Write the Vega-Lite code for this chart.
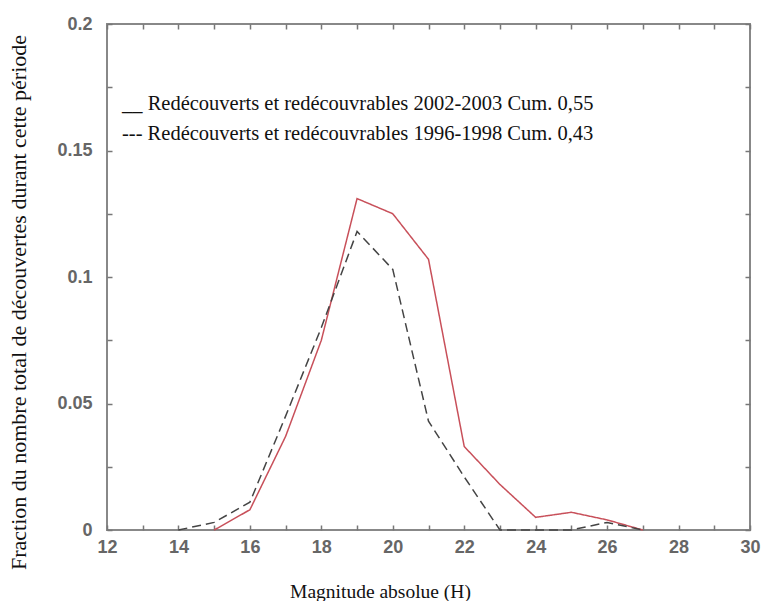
{
  "$schema": "https://vega.github.io/schema/vega-lite/v6.json",
  "width": 643,
  "height": 506,
  "autosize": "none",
  "padding": {"left": 107, "top": 24, "right": 17, "bottom": 71},
  "background": "white",
  "config": {
    "view": {"stroke": "#888888", "strokeWidth": 2},
    "axis": {"grid": false, "domain": false}
  },
  "datasets": {
    "series": [
      {"H": 15, "frac": 0.0, "serie": "2002-2003"},
      {"H": 16, "frac": 0.008, "serie": "2002-2003"},
      {"H": 17, "frac": 0.037, "serie": "2002-2003"},
      {"H": 18, "frac": 0.075, "serie": "2002-2003"},
      {"H": 19, "frac": 0.131, "serie": "2002-2003"},
      {"H": 20, "frac": 0.125, "serie": "2002-2003"},
      {"H": 21, "frac": 0.107, "serie": "2002-2003"},
      {"H": 22, "frac": 0.033, "serie": "2002-2003"},
      {"H": 23, "frac": 0.018, "serie": "2002-2003"},
      {"H": 24, "frac": 0.005, "serie": "2002-2003"},
      {"H": 25, "frac": 0.007, "serie": "2002-2003"},
      {"H": 26, "frac": 0.004, "serie": "2002-2003"},
      {"H": 27, "frac": 0.0, "serie": "2002-2003"},
      {"H": 14, "frac": 0.0, "serie": "1996-1998"},
      {"H": 15, "frac": 0.003, "serie": "1996-1998"},
      {"H": 16, "frac": 0.011, "serie": "1996-1998"},
      {"H": 17, "frac": 0.045, "serie": "1996-1998"},
      {"H": 18, "frac": 0.08, "serie": "1996-1998"},
      {"H": 19, "frac": 0.118, "serie": "1996-1998"},
      {"H": 20, "frac": 0.103, "serie": "1996-1998"},
      {"H": 21, "frac": 0.043, "serie": "1996-1998"},
      {"H": 22, "frac": 0.021, "serie": "1996-1998"},
      {"H": 23, "frac": 0.0, "serie": "1996-1998"},
      {"H": 24, "frac": 0.0, "serie": "1996-1998"},
      {"H": 25, "frac": 0.0, "serie": "1996-1998"},
      {"H": 26, "frac": 0.003, "serie": "1996-1998"},
      {"H": 27, "frac": 0.0, "serie": "1996-1998"}
    ],
    "legend": [
      {"x": 12.42, "y": 0.1684, "label": "__ Redécouverts et redécouvrables 2002-2003 Cum. 0,55"},
      {"x": 12.42, "y": 0.1565, "label": "--- Redécouverts et redécouvrables 1996-1998 Cum. 0,43"}
    ]
  },
  "layer": [
    {
      "data": {"name": "series"},
      "mark": {"type": "line", "strokeWidth": 1.5},
      "encoding": {
        "x": {
          "field": "H", "type": "quantitative",
          "scale": {"domain": [12, 30], "nice": false, "zero": false},
          "axis": {
            "orient": "bottom",
            "title": "Magnitude absolue (H)",
            "values": [12,13,14,15,16,17,18,19,20,21,22,23,24,25,26,27,28,29,30],
            "labelExpr": "datum.value % 2 == 0 ? datum.label : ''",
            "tickSize": -5, "tickColor": "#777777", "tickWidth": 1.5,
            "labelPadding": 13,
            "labelFont": "Liberation Sans", "labelFontWeight": "bold", "labelFontSize": 18, "labelColor": "#666666",
            "labelFlush": false, "labelOverlap": false,
            "titleFont": "Liberation Serif", "titleFontWeight": "normal", "titleFontSize": 19.5, "titleColor": "#111111",
            "titleX": 273, "titleY": 61, "titleBaseline": "middle", "titleAnchor": null
          }
        },
        "y": {
          "field": "frac", "type": "quantitative",
          "scale": {"domain": [0, 0.2], "nice": false},
          "axis": {
            "orient": "left",
            "title": "Fraction du nombre total de découvertes durant cette période",
            "values": [0, 0.025, 0.05, 0.075, 0.1, 0.125, 0.15, 0.175, 0.2],
            "labelExpr": "(round(datum.value*1000) % 50 == 0) ? format(datum.value, '~g') : ''",
            "tickSize": -5, "tickColor": "#777777", "tickWidth": 1.5,
            "labelPadding": 20,
            "labelFont": "Liberation Sans", "labelFontWeight": "bold", "labelFontSize": 18, "labelColor": "#666666",
            "labelFlush": false, "labelOverlap": false, "labelBaseline": "middle",
            "titleFont": "Liberation Serif", "titleFontWeight": "normal", "titleFontSize": 22, "titleColor": "#111111",
            "titleX": -89, "titleY": 278, "titleAngle": -90, "titleBaseline": "middle", "titleAlign": "center", "titleAnchor": null
          }
        },
        "color": {
          "field": "serie", "type": "nominal",
          "scale": {"domain": ["2002-2003", "1996-1998"], "range": ["#c8505a", "#444444"]},
          "legend": null
        },
        "strokeDash": {
          "field": "serie", "type": "nominal",
          "scale": {"domain": ["2002-2003", "1996-1998"], "range": [[1, 0], [9, 5]]},
          "legend": null
        }
      }
    },
    {
      "data": {"name": "legend"},
      "mark": {"type": "text", "align": "left", "baseline": "middle", "font": "Liberation Serif", "fontSize": 20.5, "color": "#111111"},
      "encoding": {
        "x": {
          "field": "x", "type": "quantitative",
          "axis": {
            "orient": "top", "title": null, "labels": false,
            "values": [12,13,14,15,16,17,18,19,20,21,22,23,24,25,26,27,28,29,30],
            "tickSize": -5, "tickColor": "#777777", "tickWidth": 1.5
          }
        },
        "y": {
          "field": "y", "type": "quantitative",
          "axis": {
            "orient": "right", "title": null, "labels": false,
            "values": [0, 0.025, 0.05, 0.075, 0.1, 0.125, 0.15, 0.175, 0.2],
            "tickSize": -5, "tickColor": "#777777", "tickWidth": 1.5
          }
        },
        "text": {"field": "label", "type": "nominal"}
      }
    }
  ],
  "resolve": {"axis": {"x": "independent", "y": "independent"}}
}
